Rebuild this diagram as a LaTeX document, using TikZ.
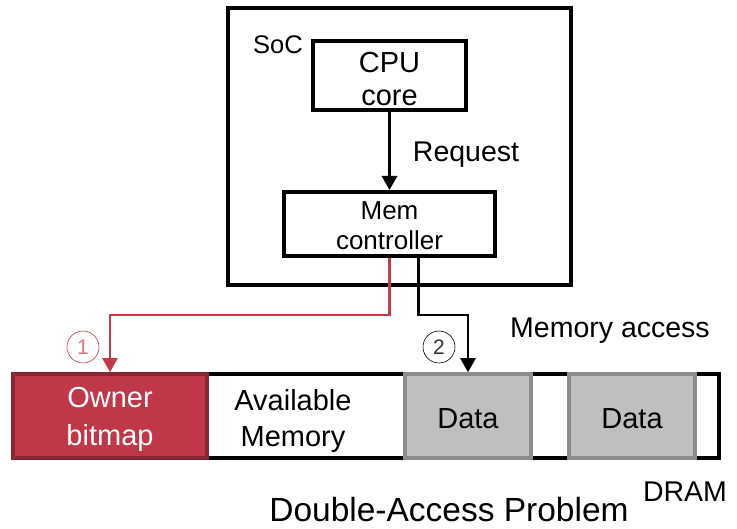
\documentclass[tikz,border=0pt]{standalone}
\usepackage{fontspec}
\setmainfont{Liberation Sans}
\usetikzlibrary{arrows.meta}
\definecolor{ownerfill}{HTML}{BE3849}
\definecolor{ownerline}{HTML}{8C2634}
\definecolor{redwire}{HTML}{C43A4D}
\definecolor{datafill}{HTML}{BFBFBF}
\definecolor{dataline}{HTML}{8C8C8C}
% a strut that sets the height of the first line of a node
\newcommand{\toprule}[1]{\rule{0pt}{#1}}
\tikzset{
  blk/.style={draw=black, line width=4pt, fill=white, inner sep=0pt, align=center},
  cell/.style={line width=3.5pt, inner sep=0pt, minimum height=84pt, align=center, font=\fontsize{29}{38}\selectfont},
  lbl/.style={inner sep=0pt, align=center, font=\fontsize{28.5}{33}\selectfont},
  tip/.style={-{Triangle[width=15pt,length=14pt]}},
  num/.style={circle, draw, line width=0.6pt, minimum size=32pt, inner sep=0pt, font=\fontsize{21}{21}\selectfont}
}
\begin{document}
\begin{tikzpicture}[x=1pt,y=-1pt]
\useasboundingbox (0,0) rectangle (737,529);

% system on chip
\node[blk, minimum width=343pt, minimum height=277pt] (soc) at (399.5,146.5) {};
\node[lbl, font=\fontsize{25.5}{28}\selectfont] (soclbl) at (278,45) {SoC};
\node[blk, minimum width=153pt, minimum height=69pt, font=\fontsize{29}{33}\selectfont] (cpu) at (389.5,75.5) {\toprule{27pt}CPU\\core};
\node[blk, minimum width=211pt, minimum height=64pt, font=\fontsize{26}{30}\selectfont] (mem) at (389.5,224) {\toprule{22pt}Mem\\controller};
\draw[line width=3pt, tip] (cpu.south) -- (mem.north);
\node[lbl] (req) at (466,155) {Request};

% DRAM row
\node[draw=black, line width=4pt, minimum width=706pt, minimum height=84pt, inner sep=0pt] (dram) at (366,416) {};
\node[cell, draw=ownerline, fill=ownerfill, minimum width=194pt, text=white] (owner) at (110,416) {\toprule{26.5pt}Owner\\bitmap};
\node[lbl, font=\fontsize{29}{36}\selectfont] (avail) at (293,421) {Available\\Memory};
\node[cell, draw=dataline, fill=datafill, minimum width=126pt] (data1) at (468,416) {\toprule{26pt}Data};
\node[cell, draw=dataline, fill=datafill, minimum width=126pt] (data2) at (632,416) {\toprule{26pt}Data};

% accesses from the memory controller
\draw[redwire, line width=2.2pt, tip] (mem.south) -- (mem.south |- 0,315) -| (owner.north);
\draw[black, line width=2.6pt, tip] ([xshift=29pt]mem.south) -- ([xshift=29pt]mem.south |- 0,315) -| (data1.north);

\node[num, draw=redwire, text=redwire!70] (n1) at (83,347) {1};
\node[num, draw=black, text=black!80] (n2) at (439,347) {2};

\node[lbl] (acc) at (610,331) {Memory access};
\node[lbl] (dramlbl) at (685,492) {DRAM};
\node[lbl, font=\fontsize{33.5}{36}\selectfont] (title) at (449,510) {Double-Access Problem};
\end{tikzpicture}
\end{document}
